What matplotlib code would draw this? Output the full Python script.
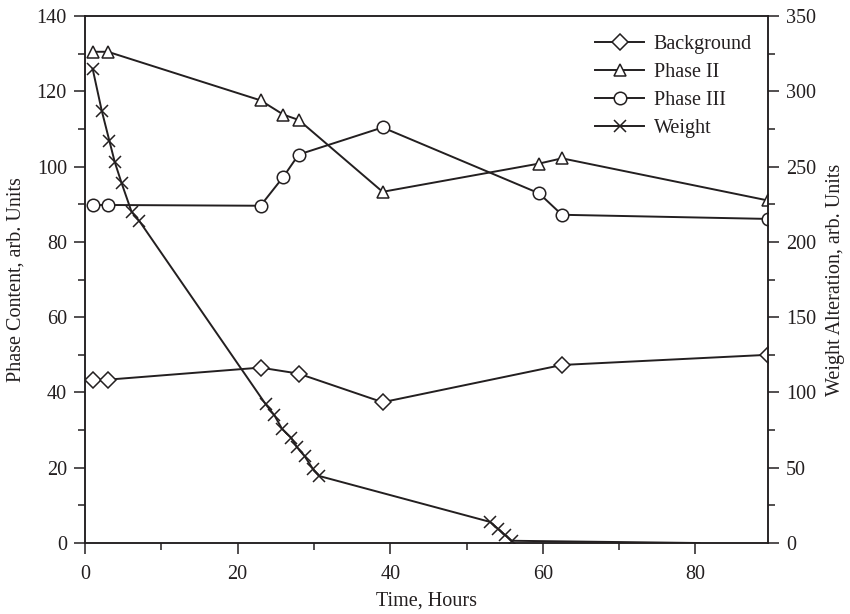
import numpy as np
import matplotlib
matplotlib.use('Agg')
import matplotlib.pyplot as plt
from matplotlib.ticker import MultipleLocator
from matplotlib.lines import Line2D

plt.rcParams['font.family'] = ['Liberation Serif', 'DejaVu Serif']

INK = '#231f20'

# Phase content (left axis)
bg_time = [1, 3, 23, 28, 39, 62.5, 89.5]
background = [43.2, 43.4, 46.6, 45.0, 37.4, 47.3, 50.0]

phase_time = [1, 3, 23, 26, 28, 39, 59.5, 62.5, 89.5]
phase2 = [130.5, 130.5, 117.6, 113.8, 112.4, 93.3, 100.8, 102.2, 91.0]
phase3 = [89.8, 89.8, 89.6, 97.3, 103.2, 110.4, 92.9, 87.2, 86.1]

# Weight alteration (right axis); last point has no marker
weight_time = [1.0, 2.2, 3.2, 3.9, 4.8, 6.1, 7.1,
               23.7, 24.8, 25.8, 27.0, 27.8, 28.8, 29.9, 30.7,
               53.1, 54.1, 55.0, 55.9, 80.5]
weight = [315, 287, 267, 253, 239, 220, 214,
          92, 85, 76, 70, 63.5, 57.5, 49, 44.5,
          14, 9.5, 5.5, 1.5, 0]

fig = plt.figure(figsize=(8.5, 6.14), dpi=100)
ax = fig.add_axes([0.1, 0.1156, 0.8035, 0.8583])
ax2 = ax.twinx()

line_kw = dict(color=INK, linewidth=1.4, markerfacecolor='white',
               markeredgecolor=INK, markeredgewidth=1.1)

ax.plot(bg_time, background, marker='D', markersize=8, **line_kw)
ax.plot(phase_time, phase2, marker='^', markersize=9, **line_kw)
ax.plot(phase_time, phase3, marker='o', markersize=9, **line_kw)
ax2.plot(weight_time, weight, marker='x', markersize=9,
         markevery=list(range(len(weight) - 1)), **line_kw)

ax.set_xlim(0, 89.5)
ax.set_ylim(0, 140)
ax2.set_ylim(0, 350)

ax.xaxis.set_major_locator(MultipleLocator(20))
ax.xaxis.set_minor_locator(MultipleLocator(10))
ax.yaxis.set_major_locator(MultipleLocator(20))
ax.yaxis.set_minor_locator(MultipleLocator(10))
ax2.yaxis.set_major_locator(MultipleLocator(50))
ax2.yaxis.set_minor_locator(MultipleLocator(25))

for a in (ax, ax2):
    for sp in a.spines.values():
        sp.set_color(INK)
        sp.set_linewidth(1.1)
    a.tick_params(which='major', direction='out', length=8, width=1.1,
                  color=INK, labelcolor=INK, labelsize=14.5, pad=5)
    a.tick_params(which='minor', direction='out', length=5, width=1.1,
                  color=INK)
ax.tick_params(axis='x', which='major', pad=8)

ax.set_xlabel('Time, Hours', fontsize=14.5, color=INK, labelpad=5)
ax.set_ylabel('Phase Content, arb. Units', fontsize=14.5, color=INK, labelpad=8)
ax2.set_ylabel('Weight Alteration, arb. Units', fontsize=14.5, color=INK,
               labelpad=7)

handles = [
    Line2D([], [], marker='D', markersize=8, **line_kw),
    Line2D([], [], marker='^', markersize=9, **line_kw),
    Line2D([], [], marker='o', markersize=9, **line_kw),
    Line2D([], [], marker='x', markersize=9, **line_kw),
]
labels = ['Background', 'Phase II', 'Phase III', 'Weight']
ax2.legend(handles, labels, loc='upper right', bbox_to_anchor=(1.0, 0.995),
           frameon=False, fontsize=14.5, handlelength=2.4,
           handletextpad=0.5, labelspacing=0.45, borderaxespad=0.4,
           labelcolor=INK)

fig.savefig('out.png', dpi=100, facecolor='white')
